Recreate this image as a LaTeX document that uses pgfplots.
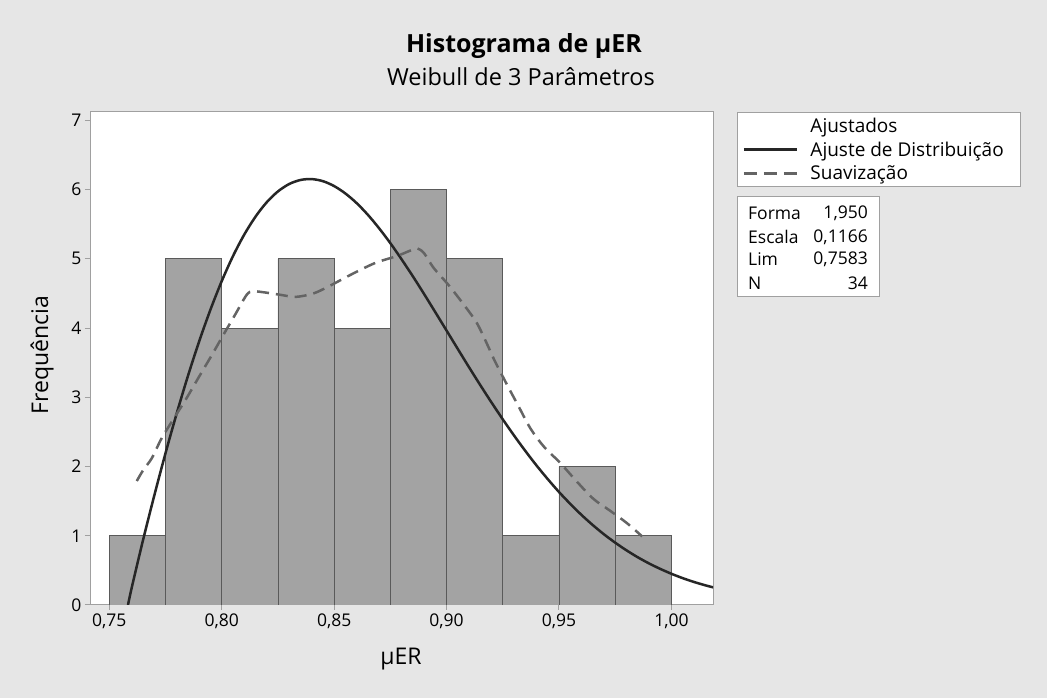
\documentclass[border=0pt]{standalone}
\usepackage{pgfplots}
\pgfplotsset{compat=1.18}
\usepackage{fontspec}
\setmainfont{Open Sans}
\definecolor{bg}{HTML}{E6E6E6}
\definecolor{barfill}{HTML}{A3A3A3}
\definecolor{baredge}{HTML}{5A5A5A}
\definecolor{fitc}{HTML}{262626}
\definecolor{smc}{HTML}{646464}
\definecolor{framec}{HTML}{A0A0A0}
\begin{document}
\begin{tikzpicture}[x=1pt,y=1pt]
\fill[bg] (0,0) rectangle (1047,698);
\begin{axis}[
  at={(90pt,93pt)}, anchor=south west,
  scale only axis, width=623pt, height=493pt,
  xmin=0.7414, xmax=1.0185, ymin=0, ymax=7.12,
  xtick={0.75,0.80,0.85,0.90,0.95,1.00},
  ytick={0,1,2,3,4,5,6,7},
  tick align=outside, tick pos=left,
  major tick length=5pt,
  axis line style={framec, line width=1pt},
  tick style={framec, line width=1pt},
  axis background/.style={fill=white},
  xticklabel style={/pgf/number format/.cd, fixed, fixed zerofill, precision=2, use comma},
  /pgf/number format/assume math mode=true,
  tick label style={font=\fontsize{17.5}{20}\selectfont, black},
  legend style={at={(1.0385,1)}, anchor=north west, draw=framec, line width=1pt, fill=white,
    font=\fontsize{19}{23.5}\selectfont, inner xsep=5pt, inner ysep=4pt, row sep=3.5pt},
  legend cell align=left,
]
\addlegendimage{empty legend}
\addlegendentry{\hspace{10pt}\makebox[203pt][l]{Ajustados}}
\addplot[ybar interval, fill=barfill, draw=baredge, line width=0.8pt, forget plot] coordinates {
(0.750,1) (0.775,5) (0.800,4) (0.825,5) (0.850,4) (0.875,6) (0.900,5) (0.925,1) (0.950,2) (0.975,1) (1.000,1)};
\addplot[fitc, line width=2.5pt, smooth,
  legend image code/.code={\draw[fitc, line width=3pt] (0pt,0pt) -- (53pt,0pt);}] coordinates {
(0.7583,0) (0.760,0.256) (0.765,0.939) (0.770,1.582) (0.775,2.194) (0.780,2.771) (0.785,3.312)
(0.790,3.812) (0.795,4.268) (0.800,4.678) (0.805,5.039) (0.810,5.349) (0.815,5.608) (0.820,5.816)
(0.825,5.973) (0.830,6.080) (0.835,6.138) (0.840,6.151) (0.845,6.121) (0.850,6.050) (0.855,5.943)
(0.860,5.804) (0.865,5.635) (0.870,5.440) (0.875,5.225) (0.880,4.992) (0.885,4.747) (0.890,4.491)
(0.895,4.228) (0.900,3.963) (0.905,3.697) (0.910,3.433) (0.915,3.175) (0.920,2.924) (0.925,2.681)
(0.930,2.448) (0.935,2.226) (0.940,2.015) (0.945,1.818) (0.950,1.632) (0.955,1.461) (0.960,1.301)
(0.965,1.155) (0.970,1.021) (0.975,0.900) (0.980,0.790) (0.985,0.690) (0.990,0.601) (0.995,0.522)
(1.000,0.451) (1.005,0.388) (1.010,0.333) (1.015,0.285) (1.020,0.243)};
\addlegendentry{\hspace{10pt}Ajuste de Distribuição}
\addplot[smc, line width=2.5pt, smooth, dash pattern=on 12pt off 7pt,
  legend image code/.code={\draw[smc, line width=3pt, dash pattern=on 13pt off 7pt] (0pt,0pt) -- (53pt,0pt);}] coordinates {
(0.7622,1.79) (0.7651,1.95) (0.7689,2.12) (0.7733,2.41) (0.7792,2.72) (0.7844,2.99) (0.7896,3.28)
(0.7956,3.61) (0.8007,3.90) (0.8059,4.19) (0.8111,4.48) (0.8140,4.53) (0.8200,4.51) (0.8260,4.48)
(0.8330,4.45) (0.8408,4.50) (0.8475,4.60) (0.8586,4.79) (0.8683,4.94) (0.8779,5.04) (0.8840,5.12)
(0.8870,5.15) (0.8900,5.08) (0.8942,4.87) (0.9009,4.62) (0.9076,4.34) (0.9135,4.07) (0.9187,3.72)
(0.9215,3.52) (0.9269,3.18) (0.9320,2.87) (0.9373,2.55) (0.9432,2.29) (0.9506,2.05) (0.9580,1.78)
(0.9654,1.53) (0.9728,1.36) (0.9803,1.18) (0.9870,0.99)};
\addlegendentry{\hspace{10pt}Suavização}
\end{axis}
% titles and labels
\node[font=\bfseries\fontsize{25}{30}\selectfont] at (524,652) {Histograma de µER};
\node[font=\fontsize{23.5}{27}\selectfont] at (521,621) {Weibull de 3 Parâmetros};
\node[font=\fontsize{23}{27}\selectfont] at (401,39) {µER};
\node[font=\fontsize{23}{27}\selectfont, rotate=90] at (42,343) {Frequência};
% statistics box
\draw[framec, line width=1pt, fill=white] (737,501) rectangle (879,401);
\begin{scope}[every node/.style={font=\fontsize{17.5}{20}\selectfont, inner sep=0pt}]
\node[anchor=west] at (748,485) {Forma};
\node[anchor=west] at (748,461) {Escala};
\node[anchor=west] at (748,439) {Lim};
\node[anchor=west] at (748,415) {N};
\node[anchor=east] at (868,485) {1,950};
\node[anchor=east] at (868,461) {0,1166};
\node[anchor=east] at (868,439) {0,7583};
\node[anchor=east] at (868,415) {34};
\end{scope}
\end{tikzpicture}
\end{document}
